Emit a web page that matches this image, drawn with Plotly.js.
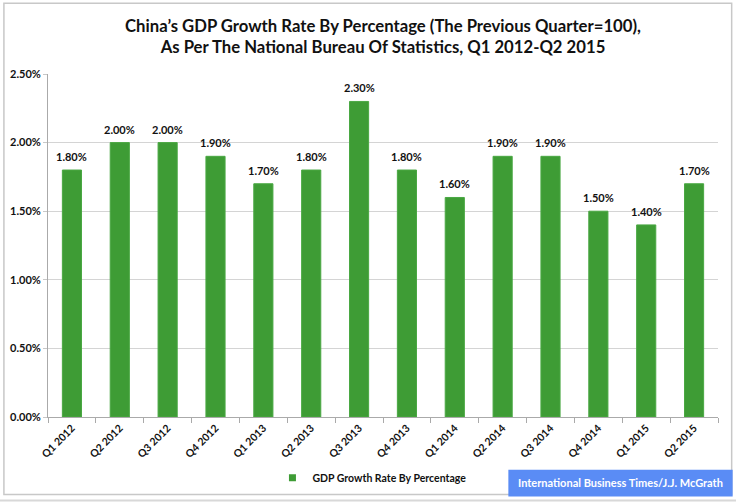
<!DOCTYPE html>
<html>
<head>
<meta charset="utf-8">
<script src="https://cdn.plot.ly/plotly-3.0.1.min.js"></script>
<style>html,body{margin:0;padding:0;background:#fff;}#chart{width:736px;height:504px;}</style>
</head>
<body>
<div id="chart"></div>
<script>
const quarters = ["Q1 2012","Q2 2012","Q3 2012","Q4 2012","Q1 2013","Q2 2013","Q3 2013","Q4 2013","Q1 2014","Q2 2014","Q3 2014","Q4 2014","Q1 2015","Q2 2015"];
const growth = [1.8, 2.0, 2.0, 1.9, 1.7, 1.8, 2.3, 1.8, 1.6, 1.9, 1.9, 1.5, 1.4, 1.7];
const yTickVals = [0, 0.5, 1.0, 1.5, 2.0, 2.5];
const yTickText = ["0.00%","0.50%","1.00%","1.50%","2.00%","2.50%"];
const seriesName = 'GDP Growth Rate By Percentage';
const sourceText = 'International Business Times/J.J. McGrath';

const FONT = 'Lato, "Open Sans", sans-serif';
const GREEN = '#3e9c35';

const bars = {
  type: 'bar',
  x: quarters,
  y: growth,
  name: seriesName,
  showlegend: false,
  marker: {color: GREEN, line: {color: '#4aa843', width: 1}},
  width: 0.4,
  hoverinfo: 'none'
};

const legendItem = {
  type: 'scatter', mode: 'markers',
  x: [null], y: [null],
  name: '<b>' + seriesName + '</b>',
  marker: {symbol: 'square', size: 7, color: GREEN},
  showlegend: true, hoverinfo: 'none'
};

const valueLabels = quarters.map((q, i) => ({
  xref: 'x', yref: 'y', x: q, y: growth[i], xanchor: 'center', yanchor: 'bottom',
  yshift: 5, showarrow: false,
  text: '<b>' + growth[i].toFixed(2) + '%</b>',
  font: {family: FONT, size: 11, color: '#111'}
}));

const layout = {
  width: 736, height: 504,
  margin: {l: 48, r: 18, t: 74, b: 85},
  paper_bgcolor: '#fff', plot_bgcolor: '#fff',
  font: {family: FONT, color: '#111'},
  title: {
    text: '<b>China\u2019s GDP Growth Rate By Percentage (The Previous Quarter=100),<br>As Per The National Bureau Of Statistics, Q1 2012-Q2 2015</b>',
    font: {family: FONT, size: 16.7, color: '#111'},
    x: 0.5, xanchor: 'center', xref: 'paper',
    y: 0.937, yanchor: 'middle', yref: 'container'
  },
  showlegend: true,
  legend: {
    orientation: 'h', x: 0.335, xanchor: 'left', y: -0.177, yanchor: 'middle',
    font: {family: FONT, size: 10.5, color: '#111'},
    itemwidth: 30, bgcolor: 'rgba(0,0,0,0)'
  },
  xaxis: {
    type: 'category', automargin: false,
    range: [-0.5, quarters.length - 0.5],
    tickvals: quarters, ticktext: quarters.map(q => '<b>' + q + '</b>'),
    tickangle: -45,
    tickfont: {family: FONT, size: 10.5, color: '#111'},
    ticks: 'outside', ticklen: 5, tickcolor: '#aaa', tickson: 'boundaries',
    showline: true, linecolor: '#aaa', linewidth: 1,
    showgrid: false, fixedrange: true
  },
  yaxis: {
    range: [0, 2.5], automargin: false,
    tickvals: yTickVals, ticktext: yTickText.map(t => '<b>' + t + '</b>'),
    tickfont: {family: FONT, size: 11, color: '#111'},
    ticks: 'outside', ticklen: 4, tickcolor: '#c8c8c8',
    showgrid: true, gridcolor: '#d4d4d4', gridwidth: 1,
    showline: true, linecolor: '#aaa', linewidth: 1,
    zeroline: false, fixedrange: true
  },
  shapes: [
    {type: 'rect', xref: 'paper', yref: 'paper', x0: -0.0658, x1: 1.0204, y0: -0.226, y1: 1.206,
     line: {color: '#c8c8c8', width: 1.5}, fillcolor: 'rgba(0,0,0,0)', layer: 'below'},
    {type: 'line', xref: 'paper', yref: 'paper', x0: -0.072, x1: 1.03, y0: -0.2435, y1: -0.2435,
     line: {color: '#d8d8d8', width: 2}},
    {type: 'rect', xref: 'paper', yref: 'paper', x0: 0.6871, x1: 1.0219, y0: -0.232, y1: -0.1536,
     line: {width: 0}, fillcolor: '#5a8cf5', layer: 'above'}
  ],
  annotations: valueLabels.concat([
    {xref: 'paper', yref: 'paper', x: 0.8545, y: -0.1913, xanchor: 'center', yanchor: 'middle',
     text: '<b>' + sourceText + '</b>', showarrow: false,
     font: {family: FONT, size: 11, color: '#fff'}}
  ])
};

Plotly.newPlot('chart', [bars, legendItem], layout, {staticPlot: true, displayModeBar: false});
</script>
</body>
</html>
